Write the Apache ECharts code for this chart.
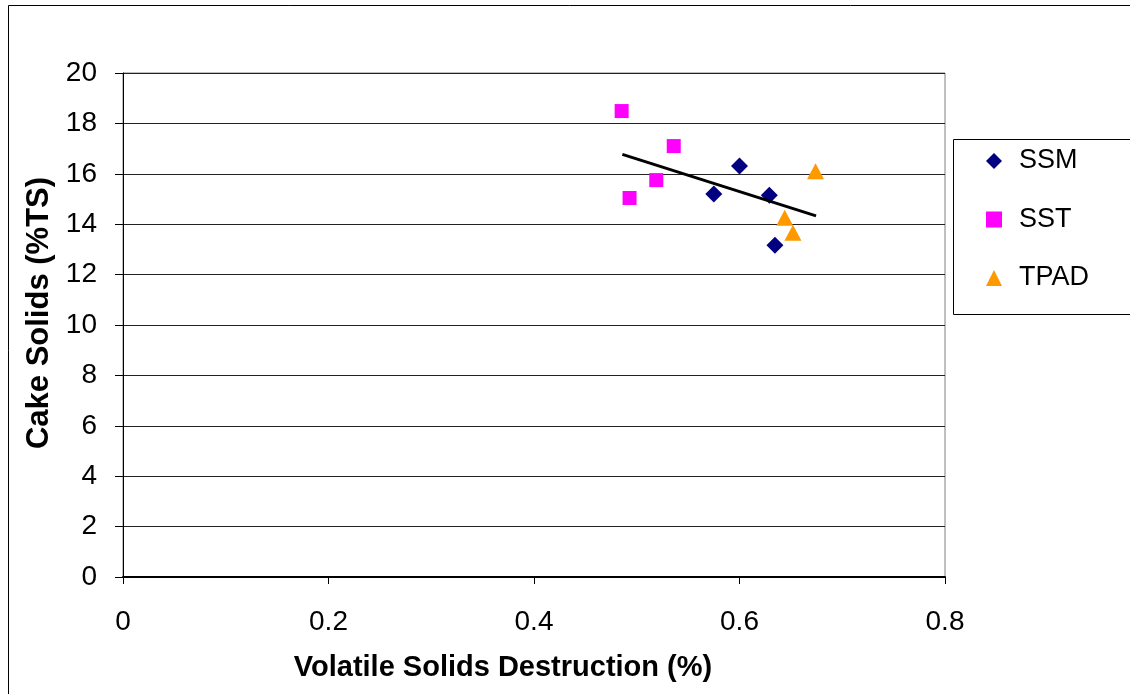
<!DOCTYPE html>
<html>
<head>
<meta charset="utf-8">
<script src="https://cdn.jsdelivr.net/npm/echarts@6/dist/echarts.min.js"></script>
<style>
html,body{margin:0;padding:0;background:#fff;}
#c{width:1130px;height:694px;}
</style>
</head>
<body>
<div id="c"></div>
<script>
const seriesNames = ['SSM', 'SST', 'TPAD'];
const ssmX = [0.575, 0.600, 0.629, 0.6345];
const ssmY = [15.2, 16.31, 15.15, 13.16];
const sstX = [0.4853, 0.536, 0.519, 0.493];
const sstY = [18.49, 17.10, 15.75, 15.04];
const tpadX = [0.674, 0.644, 0.652];
const tpadY = [16.1, 14.26, 13.66];
const trendX = [0.486, 0.6745];
const trendY = [16.77, 14.33];
const xTicks = [0, 0.2, 0.4, 0.6, 0.8];
const yTicks = [0, 2, 4, 6, 8, 10, 12, 14, 16, 18, 20];

const zip = (xs, ys) => xs.map((x, i) => [x, ys[i]]);
const FONT = '"Liberation Sans", Arial, sans-serif';

const chart = echarts.init(document.getElementById('c'), null, {renderer: 'canvas'});
chart.setOption({
  backgroundColor: '#fff',
  animation: false,
  textStyle: {fontFamily: FONT},
  graphic: [
    {type: 'rect', shape: {x: 8.5, y: 5.5, width: 1130, height: 700}, style: {fill: 'none', stroke: '#000', lineWidth: 1}, z: -10},
    {type: 'rect', shape: {x: 953.5, y: 139.5, width: 200, height: 175}, style: {fill: '#fff', stroke: '#000', lineWidth: 1}, z: 0}
  ],
  grid: {left: 123, top: 73, right: 185, bottom: 117, show: true, borderColor: '#808080', borderWidth: 1, backgroundColor: '#fff'},
  legend: {
    data: seriesNames,
    orient: 'vertical',
    left: 981,
    top: 142,
    itemGap: 30.5,
    itemWidth: 16,
    itemHeight: 16,
    textStyle: {fontSize: 27, lineHeight: 28, color: '#000', fontFamily: FONT, padding: [0, 0, 0, 12]},
    z: 5
  },
  xAxis: {
    type: 'value',
    min: 0, max: 0.8, interval: 0.2,
    name: 'Volatile Solids Destruction (%)',
    nameLocation: 'middle',
    nameGap: 76,
    nameTextStyle: {fontSize: 29, fontWeight: 'bold', color: '#000', fontFamily: FONT, padding: [0, 62, 0, 0]},
    axisLine: {show: true, lineStyle: {color: '#000', width: 2}},
    axisTick: {show: true, length: 7, lineStyle: {color: '#000'}},
    axisLabel: {fontSize: 28, color: '#000', margin: 31, fontFamily: FONT,
      formatter: v => xTicks.includes(Math.round(v * 10) / 10) ? String(Math.round(v * 10) / 10) : ''},
    splitLine: {show: false}
  },
  yAxis: {
    type: 'value',
    min: 0, max: 20, interval: 2,
    name: 'Cake Solids (%TS)',
    nameLocation: 'middle',
    nameGap: 67,
    nameTextStyle: {fontSize: 31, fontWeight: 'bold', color: '#000', fontFamily: FONT, padding: [0, 0, 0, 24]},
    axisLine: {show: true, lineStyle: {color: '#000', width: 1}},
    axisTick: {show: true, length: 8, lineStyle: {color: '#000'}},
    axisLabel: {fontSize: 28, color: '#000', margin: 26, fontFamily: FONT, padding: [5, 0, 0, 0],
      formatter: v => yTicks.includes(v) ? String(v) : ''},
    splitLine: {show: true, lineStyle: {color: '#222', width: 1}}
  },
  series: [
    {name: 'SSM', type: 'scatter', symbol: 'diamond', symbolSize: [17, 17], data: zip(ssmX, ssmY), itemStyle: {color: '#000080', opacity: 1}, z: 3},
    {name: 'SST', type: 'scatter', symbol: 'rect', symbolSize: 14, data: zip(sstX, sstY), itemStyle: {color: '#FF00FF', opacity: 1}, z: 3},
    {name: 'TPAD', type: 'scatter', symbol: 'triangle', symbolSize: [17, 16], data: zip(tpadX, tpadY), itemStyle: {color: '#FF9900', opacity: 1}, z: 3},
    {name: 'Trend', type: 'line', data: zip(trendX, trendY), symbol: 'none', lineStyle: {color: '#000', width: 3}, z: 4, silent: true}
  ]
});
</script>
</body>
</html>
